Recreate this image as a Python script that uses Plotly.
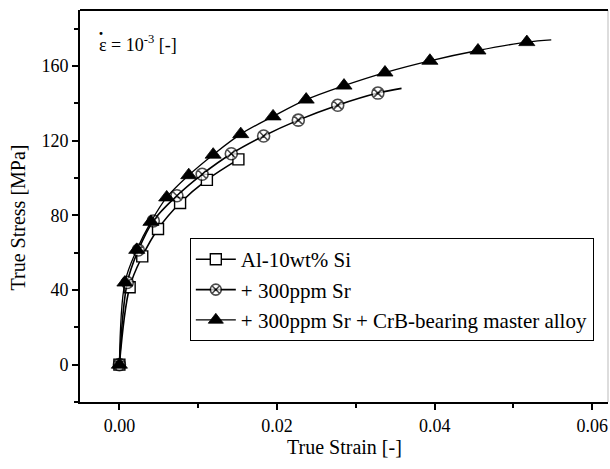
import plotly.graph_objects as go

# ---- data ----
al_strain = [0.0, 0.0013, 0.0029, 0.0049, 0.0077, 0.0111, 0.0151]
al_stress = [0.0, 41.5, 58.0, 72.7, 86.6, 99.0, 110.0]

sr_strain = [0.0, 0.0010, 0.0024, 0.0043, 0.0073, 0.0105, 0.0142, 0.0183, 0.0227, 0.0277, 0.0328]
sr_stress = [0.0, 44.0, 61.4, 77.0, 90.5, 102.0, 113.0, 122.5, 131.0, 139.0, 145.5]
sr_curve_end = (0.0358, 148.0)

crb_strain = [0.0, 0.0007, 0.0022, 0.0040, 0.0060, 0.0088, 0.0119, 0.0154, 0.0195, 0.0237,
              0.0285, 0.0337, 0.0394, 0.0455, 0.0517]
crb_stress = [0.0, 44.0, 61.5, 76.5, 89.6, 101.5, 112.5, 123.5, 133.0, 142.0,
              149.5, 156.5, 162.8, 168.3, 172.8]
crb_curve_end = (0.0548, 174.0)

names = ["Al-10wt% Si", "+ 300ppm Sr", "+ 300ppm Sr + CrB-bearing master alloy"]

x_ticks = [0.00, 0.02, 0.04, 0.06]
y_ticks = [0, 40, 80, 120, 160]

FONT = "Liberation Serif"

fig = go.Figure()

fig.add_trace(go.Scatter(
    x=al_strain, y=al_stress, name=names[0], mode="lines+markers",
    line=dict(color="black", width=1.6, shape="spline"),
    marker=dict(symbol="square", size=11, color="white", line=dict(color="black", width=1.4)),
))

fig.add_trace(go.Scatter(
    x=sr_strain + [sr_curve_end[0]], y=sr_stress + [sr_curve_end[1]], name=names[1],
    mode="lines+markers",
    line=dict(color="black", width=1.6, shape="spline"),
    marker=dict(symbol="circle-x", size=[12] * len(sr_strain) + [0], color="white",
                line=dict(color="black", width=1.6)),
))

fig.add_trace(go.Scatter(
    x=crb_strain + [crb_curve_end[0]], y=crb_stress + [crb_curve_end[1]], name=names[2],
    mode="lines+markers",
    line=dict(color="black", width=1.3, shape="spline"),
    marker=dict(symbol="triangle-up", size=[14] * len(crb_strain) + [0], color="#000000",
                opacity=1, line=dict(color="#000000", width=0.8)),
))

fig.update_layout(
    width=610, height=469,
    margin=dict(l=80, r=2, t=10, b=67, autoexpand=False),
    plot_bgcolor="white", paper_bgcolor="white",
    font=dict(family=FONT, size=18, color="black"),
    showlegend=True,
    legend=dict(
        x=0.208, y=0.418, xanchor="left", yanchor="top",
        bgcolor="white", bordercolor="black", borderwidth=1,
        font=dict(family=FONT, size=21, color="black"),
        tracegroupgap=0, itemwidth=40,
    ),
    annotations=[
        dict(x=0.032, y=0.915, xref="paper", yref="paper", xanchor="left", yanchor="middle",
             text="\u03b5 = 10<sup>-3</sup> [-]", showarrow=False,
             font=dict(family=FONT, size=18, color="black")),
        dict(x=0.040, y=0.938, xref="paper", yref="paper", xanchor="center", yanchor="middle",
             text="<b>\u00b7</b>", showarrow=False,
             font=dict(family=FONT, size=18, color="black")),
        dict(x=0.5, y=-0.115, xref="paper", yref="paper", xanchor="center", yanchor="middle",
             text="True Strain [-]", showarrow=False,
             font=dict(family=FONT, size=20, color="black")),
        dict(x=-0.118, y=0.47, xref="paper", yref="paper", xanchor="center", yanchor="middle",
             text="True Stress [MPa]", showarrow=False, textangle=-90,
             font=dict(family=FONT, size=20, color="black")),
    ],
    shapes=[
        dict(type="line", xref="paper", yref="paper", x0=1, x1=1, y0=0, y1=1,
             line=dict(color="#bbbbbb", width=1)),
        dict(type="line", xref="paper", yref="paper", x0=0, x1=1, y0=1, y1=1,
             line=dict(color="black", width=2)),
    ],
)

fig.update_xaxes(
    range=[-0.005, 0.062], tickvals=x_ticks, ticktext=[f"{v:.2f}" for v in x_ticks],
    ticks="outside", ticklen=6, tickwidth=2, tickcolor="black",
    minor=dict(dtick=0.01, tick0=0, ticks="outside", ticklen=4, tickwidth=1.5, tickcolor="black"),
    showline=True, linecolor="black", linewidth=2, mirror=False,
    showgrid=False, zeroline=False, automargin=False,
    tickfont=dict(family=FONT, size=18),
)
fig.update_yaxes(
    range=[-20, 190], tickvals=y_ticks,
    ticks="outside", ticklen=6, tickwidth=2, tickcolor="black",
    minor=dict(dtick=20, tick0=0, ticks="outside", ticklen=4, tickwidth=1.5, tickcolor="black"),
    showline=True, linecolor="black", linewidth=2, mirror=False,
    showgrid=False, zeroline=False, automargin=False,
    tickfont=dict(family=FONT, size=18),
)

fig.write_html(
    "out.html",
    config={"displayModeBar": False},
    post_script="document.body.style.margin='0px';document.body.style.overflow='hidden';",
)
